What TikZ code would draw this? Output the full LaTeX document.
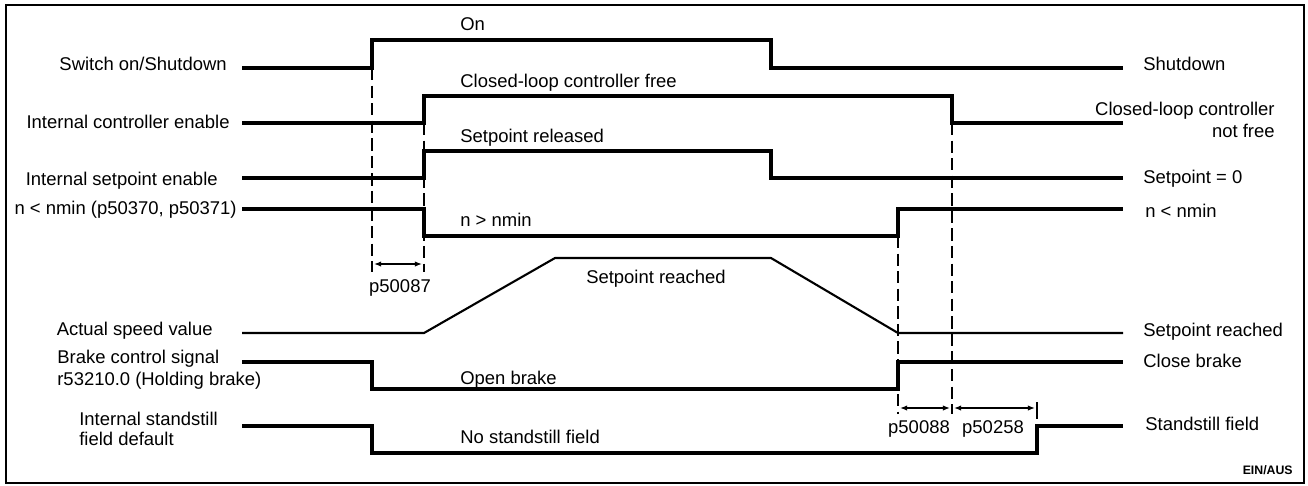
\documentclass[tikz,border=0pt]{standalone}
\usepackage{fontspec}
\setmainfont{Liberation Sans}
\usetikzlibrary{arrows.meta}
\tikzset{
    % signal traces
    sigline/.style={line width=2.2pt, line join=miter, line cap=butt},
    speedline/.style={line width=1.2pt, line join=round},
    % timing marks
    tmark/.style={line width=0.6pt, dash pattern=on 7pt off 3pt},
    dimline/.style={{Latex[length=4pt,width=3pt]}-{Latex[length=4pt,width=3pt]}, line width=0.7pt},
    % labels
    lbl/.style={inner sep=0pt, font=\fontsize{10.5}{12.5}\selectfont},
    lbll/.style={lbl, anchor=base east},
    lblr/.style={lbl, anchor=base west},
    tinylbl/.style={inner sep=0pt, font=\fontsize{7}{8}\selectfont\bfseries},
}

\begin{document}
\begin{tikzpicture}[x=0.02cm, y=-0.02cm]
\useasboundingbox (0,0) rectangle (1308,485);
\draw[line width=1.3pt] (6,5) rectangle (1304,483);

% time marks
\draw[tmark] (372,68) -- (372,272);
\draw[tmark] (424,123) -- (424,272);
\draw[tmark] (898,236) -- (898,414);
\draw[tmark] (952,123) -- (952,414);
\draw[line width=0.7pt] (1037,402) -- (1037,419);

% signals
\draw[sigline] (242,68) -| (372,40) -| (771,68) -- (1123,68);
\draw[sigline] (242,123) -| (424,96) -| (952,123) -- (1123,123);
\draw[sigline] (242,178) -| (424,151) -| (771,178) -- (1123,178);
\draw[sigline] (242,209) -| (424,236) -| (898,209) -- (1123,209);
\draw[speedline] (242,333) -- (424,333) -- (555,258) -- (771,258) -- (898,333) -- (1123,333);
\draw[sigline] (242,362) -| (372,389) -| (898,362) -- (1123,362);
\draw[sigline] (242,426) -| (372,453) -| (1037,426) -- (1123,426);

% left labels
\node[lbll] (swon)   at (227,70)  {Switch on/Shutdown};
\node[lbll] (ctren)  at (230,128) {Internal controller enable};
\node[lbll] (spen)   at (218,185) {Internal setpoint enable};
\node[lbll] (nmin)   at (237,214) {n < nmin (p50370, p50371)};
\node[lbll] (speed)  at (213,335) {Actual speed value};
\node[lbl, anchor=north west, align=left] (brake) at (57,349.5)
    {Brake control signal\\r53210.0 (Holding brake)};
\node[lbl, anchor=north west, align=left] (stand) at (79,412)
    {Internal standstill\\[-1pt]field default};

% state labels
\node[lblr] (on)     at (460,30)  {On};
\node[lblr] (cfree)  at (460,87)  {Closed-loop controller free};
\node[lblr] (sprel)  at (460,142) {Setpoint released};
\node[lblr] (ngt)    at (460,226) {n > nmin};
\node[lbl, anchor=base] (spre) at (656,283) {Setpoint reached};
\node[lblr] (open)   at (460,384) {Open brake};
\node[lblr] (nostd)  at (460,443) {No standstill field};

% right labels
\node[lblr] (shut)   at (1143,70)  {Shutdown};
\node[lbl, anchor=north east, align=right] (cnfree) at (1275,101.5)
    {Closed-loop controller\\not free};
\node[lblr] (spzero) at (1143,183) {Setpoint = 0};
\node[lblr] (nlt)    at (1145,217) {n < nmin};
\node[lblr] (spre2)  at (1143,336) {Setpoint reached};
\node[lblr] (close)  at (1143,367) {Close brake};
\node[lblr] (stdf)   at (1145,430) {Standstill field};

% delay times
\coordinate (d1a) at (374,264);
\coordinate (d1b) at (422,264);
\coordinate (d2a) at (900,408);
\coordinate (d2b) at (950,408);
\coordinate (d3a) at (954,408);
\coordinate (d3b) at (1035,408);
\draw[dimline] (d1a) -- (d1b);
\draw[dimline] (d2a) -- (d2b);
\draw[dimline] (d3a) -- (d3b);
\node[lbl, anchor=base] (p087) at (400,292) {p50087};
\node[lbl, anchor=base] (p088) at (919,433) {p50088};
\node[lbl, anchor=base] (p258) at (993,433) {p50258};

\node[tinylbl, anchor=base east] (ein) at (1293,474) {EIN/AUS};
\end{tikzpicture}
\end{document}
